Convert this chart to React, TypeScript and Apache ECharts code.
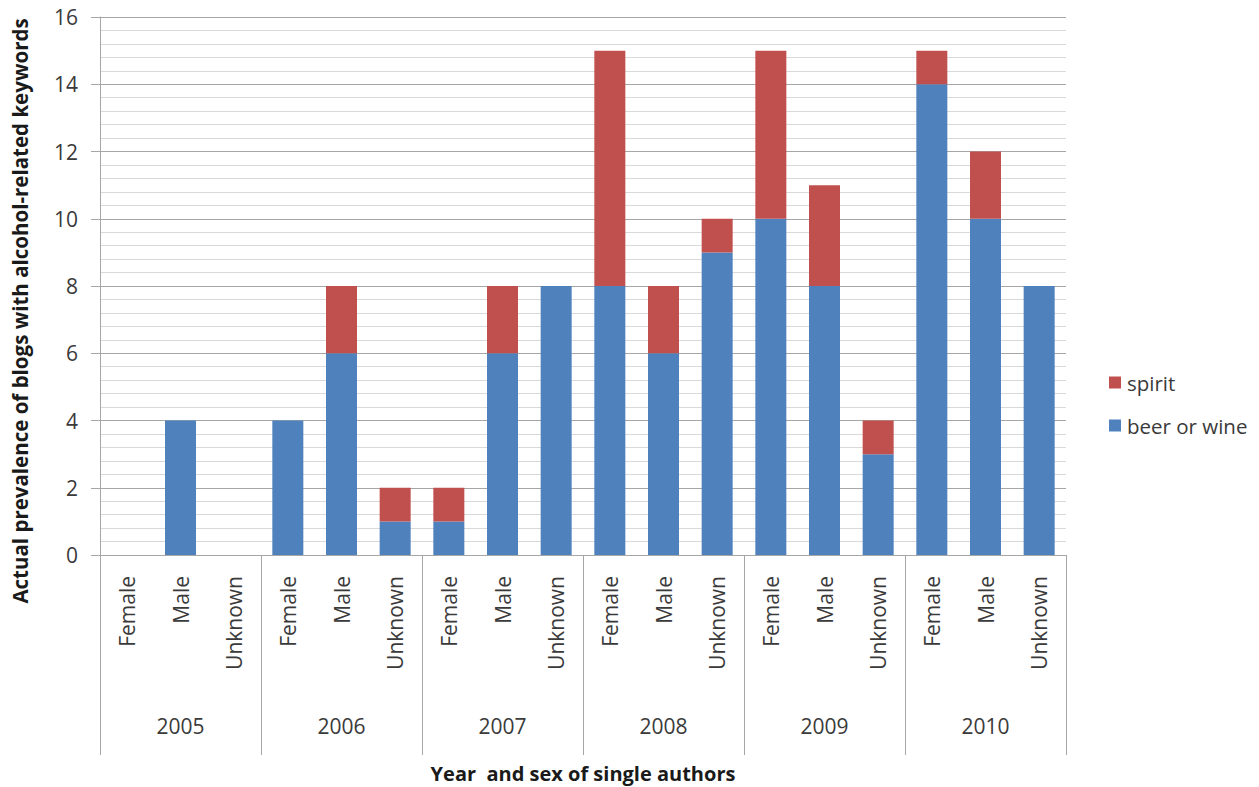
import React, { useEffect, useRef } from "react";
import * as echarts from "echarts";

const years = ["2005", "2006", "2007", "2008", "2009", "2010"];
const sexes = ["Female", "Male", "Unknown"];
const categories = years.flatMap(() => sexes);
const beerOrWine = [0, 4, 0, 4, 6, 1, 1, 6, 8, 8, 6, 9, 10, 8, 3, 14, 10, 8];
const spirit = [0, 0, 0, 0, 2, 1, 1, 2, 0, 7, 2, 1, 5, 3, 1, 1, 2, 0];
const yTicks = { min: 0, max: 16, interval: 2 };

const FONT = "'Open Sans', 'Liberation Sans', sans-serif";
const TEXT = "#3a3a3a";
const AXIS = "#a6a6a6";

export default function App() {
  const ref = useRef<HTMLDivElement>(null);
  useEffect(() => {
    if (!ref.current) return;
    const chart = echarts.init(ref.current, undefined, { renderer: "svg" });
    chart.setOption({
      animation: false,
      textStyle: { fontFamily: FONT },
      grid: { left: 100, right: 193, top: 17, bottom: 232, containLabel: false },
      legend: {
        orient: "vertical",
        left: 1104,
        top: 367,
        itemWidth: 12,
        itemHeight: 12,
        itemGap: 22,
        icon: "rect",
        data: ["spirit", "beer or wine"],
        textStyle: { fontFamily: FONT, fontSize: 20.5, color: TEXT, padding: [0, 0, 0, 1] },
      },
      xAxis: [
        {
          type: "category",
          data: categories,
          position: "bottom",
          axisLine: { show: true, lineStyle: { color: AXIS, width: 1 } },
          axisTick: { show: false },
          axisLabel: {
            interval: 0,
            rotate: 90,
            margin: 21,
            fontFamily: FONT,
            fontSize: 21,
            color: TEXT,
          },
        },
        {
          type: "category",
          data: years,
          position: "bottom",
          axisLine: { show: false },
          axisTick: { show: true, length: 200, interval: 0, lineStyle: { color: AXIS, width: 1 } },
          axisLabel: {
            interval: 0,
            margin: 160,
            fontFamily: FONT,
            fontSize: 21,
            color: TEXT,
          },
        },
      ],
      yAxis: {
        type: "value",
        min: yTicks.min,
        max: yTicks.max,
        interval: yTicks.interval,
        axisLine: { show: true, lineStyle: { color: AXIS, width: 1 } },
        axisTick: { show: true, length: 9, lineStyle: { color: AXIS } },
        minorTick: { show: false, splitNumber: 5 },
        splitLine: { show: true, lineStyle: { color: "#a6a6a6", width: 1 } },
        minorSplitLine: { show: true, lineStyle: { color: "#d9d9d9", width: 1 } },
        axisLabel: { margin: 22, fontFamily: FONT, fontSize: 21, color: TEXT },
      },
      series: [
        {
          name: "beer or wine",
          type: "bar",
          stack: "total",
          xAxisIndex: 0,
          barWidth: 31,
          itemStyle: { color: "#4F81BD" },
          data: beerOrWine,
        },
        {
          name: "spirit",
          type: "bar",
          stack: "total",
          xAxisIndex: 0,
          barWidth: 31,
          itemStyle: { color: "#C0504D" },
          data: spirit,
        },
      ],
      graphic: [
        {
          type: "text",
          x: 20,
          y: 311,
          rotation: Math.PI / 2,
          style: {
            text: "Actual prevalence of blogs with alcohol-related keywords",
            fontFamily: FONT,
            fontSize: 20.5,
            fontWeight: "bold",
            fill: "#1a1a1a",
            textAlign: "center",
            textVerticalAlign: "middle",
          },
        },
        {
          type: "text",
          x: 583,
          y: 773,
          style: {
            text: "Year  and sex of single authors",
            fontFamily: FONT,
            fontSize: 20,
            fontWeight: "bold",
            fill: "#1a1a1a",
            textAlign: "center",
            textVerticalAlign: "middle",
          },
        },
      ],
    });
    return () => chart.dispose();
  }, []);
  return (
    <div
      ref={ref}
      style={{ position: "fixed", left: 0, top: 0, width: 1259, height: 787, background: "#fff" }}
    />
  );
}
